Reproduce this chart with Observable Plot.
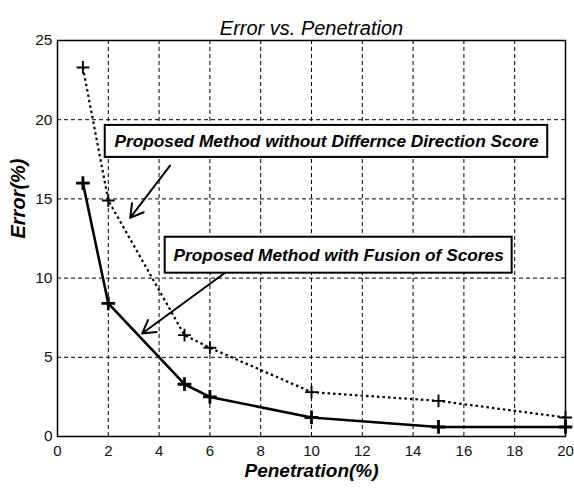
<!DOCTYPE html>
<html>
<head>
<meta charset="utf-8">
<script src="https://cdn.jsdelivr.net/npm/d3@7"></script>
<script src="https://cdn.jsdelivr.net/npm/@observablehq/plot@0.6"></script>
<style>
  html, body { margin: 0; padding: 0; background: #fff; }
  #chart svg { display: block; }
</style>
</head>
<body>
<div id="chart"></div>
<script>
// ---- Data ----
const penetration = [1, 2, 5, 6, 10, 15, 20];
const errorFusion = [16.0, 8.4, 3.3, 2.5, 1.2, 0.6, 0.6];
const errorNoDiffDir = [23.3, 14.9, 6.4, 5.6, 2.8, 2.25, 1.2];
const xTicks = [0, 2, 4, 6, 8, 10, 12, 14, 16, 18, 20];
const yTicks = [0, 5, 10, 15, 20, 25];
const seriesNames = [
  "Proposed Method without Differnce Direction Score",
  "Proposed Method with Fusion of Scores"
];
const titleText = "Error vs. Penetration";
const xLabel = "Penetration(%)";
const yLabel = "Error(%)";

const fusion = penetration.map((p, i) => ({x: p, y: errorFusion[i]}));
const noDiff = penetration.map((p, i) => ({x: p, y: errorNoDiffDir[i]}));

// annotation boxes and arrows (in data coordinates)
const boxes = [
  {x1: 1.88, x2: 19.3, y1: 17.62, y2: 19.64, label: seriesNames[0]},
  {x1: 4.24, x2: 17.9, y1: 10.31, y2: 12.58, label: seriesNames[1]}
];
const arrows = [
  {x1: 4.43, y1: 17.1, x2: 2.86, y2: 13.8},
  {x1: 6.65, y1: 10.4, x2: 3.33, y2: 6.5}
];

const font = "'Liberation Sans', Arial, sans-serif";

const chart = Plot.plot({
  width: 574,
  height: 491,
  marginLeft: 57,
  marginRight: 9,
  marginTop: 40,
  marginBottom: 55,
  style: {fontFamily: font, fontSize: "15px", color: "#000", background: "#fff"},
  x: {domain: [0, 20], ticks: xTicks, label: null},
  y: {domain: [0, 25], ticks: yTicks, label: null},
  marks: [
    Plot.gridX(xTicks, {stroke: "#000", strokeOpacity: 1, strokeWidth: 1, strokeDasharray: "4,3"}),
    Plot.gridY(yTicks, {stroke: "#000", strokeOpacity: 1, strokeWidth: 1, strokeDasharray: "4,3"}),
    Plot.axisX(xTicks, {tickSize: 0, tickPadding: 9, fontSize: 15, label: null, fill: "#111"}),
    Plot.axisY(yTicks, {tickSize: 0, tickPadding: 5, fontSize: 15.5, label: null, fill: "#111"}),
    Plot.frame({stroke: "#000", strokeWidth: 1.5}),
    Plot.line(noDiff, {x: "x", y: "y", stroke: "#000", strokeWidth: 2.2, strokeDasharray: "2.5,3", strokeLinecap: "butt"}),
    Plot.dot(noDiff, {x: "x", y: "y", symbol: "plus", stroke: "#000", strokeWidth: 1.9, r: 4.2}),
    Plot.line(fusion, {x: "x", y: "y", stroke: "#000", strokeWidth: 2.6}),
    Plot.dot(fusion, {x: "x", y: "y", symbol: "plus", stroke: "#000", strokeWidth: 2.8, r: 4.5}),
    Plot.arrow(arrows, {x1: "x1", y1: "y1", x2: "x2", y2: "y2", stroke: "#000", strokeWidth: 2, headLength: 11}),
    Plot.rect(boxes, {x1: "x1", x2: "x2", y1: "y1", y2: "y2", fill: "#fff", stroke: "#000", strokeWidth: 2}),
    Plot.text(boxes, {x: d => (d.x1 + d.x2) / 2, y: d => (d.y1 + d.y2) / 2, text: "label",
      fontWeight: "bold", fontStyle: "italic", fontSize: 17.3, fill: "#000"}),
    Plot.text([titleText], {frameAnchor: "top", dy: -20, text: d => d, fontStyle: "italic", fontSize: 20, fill: "#000"}),
    Plot.text([xLabel], {frameAnchor: "bottom", dy: 40, text: d => d, fontStyle: "italic", fontWeight: "bold", fontSize: 19, fill: "#000"}),
    Plot.text([yLabel], {frameAnchor: "left", dx: -38.5, rotate: -90, text: d => d, fontStyle: "italic", fontWeight: "bold", fontSize: 20, fill: "#000"})
  ]
});
document.getElementById("chart").appendChild(chart);
</script>
</body>
</html>
